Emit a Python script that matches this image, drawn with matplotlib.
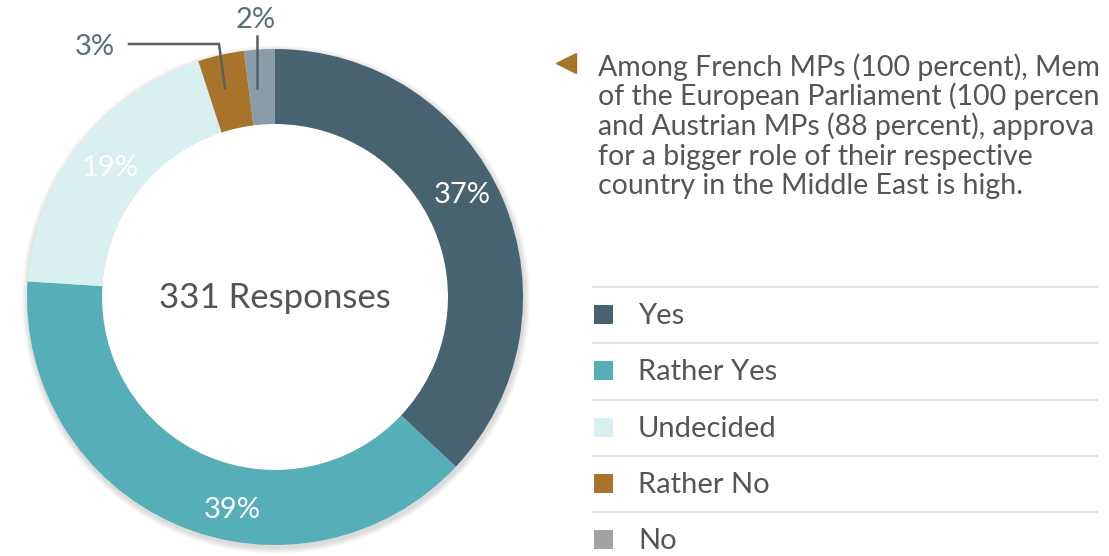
import matplotlib
matplotlib.use('Agg')
import matplotlib.pyplot as plt

# Survey data
categories = ['Yes', 'Rather Yes', 'Undecided', 'Rather No', 'No']
shares = [37, 39, 19, 3, 2]
slice_colors = ['#47636f', '#56aeb9', '#d8f0f0', '#a8732a', '#8b9ca9']
legend_colors = ['#47636f', '#56aeb9', '#d8f0f0', '#a8732a', '#a3a3a3']
total_responses = 331
# note text as visible in the (cropped) reference
note_lines = [
    'Among French MPs (100 percent), Mem',
    'of the European Parliament (100 percen',
    'and Austrian MPs (88 percent), approva',
    'for a bigger role of their respective',
    'country in the Middle East is high.',
]

W, H = 1109, 556
plt.rcParams['font.family'] = ['Lato', 'DejaVu Sans']
fig = plt.figure(figsize=(W / 100, H / 100), dpi=100)

# donut axes, centre at (275, 297) px, outer radius ~248 px
cx, cy, half = 275, 297, 256
ax = fig.add_axes([(cx - half) / W, (H - cy - half) / H, 2 * half / W, 2 * half / H])
R = 248 / half
ring = 75 / half
# faint drop shadow behind the ring
for k in range(6):
    ax.add_patch(plt.Circle((0.004, -0.01), R + 0.004 * (k + 1), color='#000000',
                            alpha=0.025, lw=0, zorder=0))
wedges, _ = ax.pie(shares, colors=slice_colors, startangle=90, counterclock=False,
                   radius=R, wedgeprops=dict(width=ring, linewidth=0))
ax.add_patch(plt.Circle((0, 0), R - ring, color='white', lw=0, zorder=0.5))
ax.set_xlim(-1, 1)
ax.set_ylim(-1, 1)
ax.set_aspect('equal')
ax.axis('off')

# overlay axes in pixel coordinates for text
ov = fig.add_axes([0, 0, 1, 1], zorder=5)
ov.set_xlim(0, W)
ov.set_ylim(H, 0)
ov.axis('off')

ov.text(cx, 308, f'{total_responses} Responses', ha='center', va='baseline',
        fontsize=25, color='#555555')

# percentage labels
inside_pos = [(462, 195), (232, 510), (110, 168)]
for (x, y), v in zip(inside_pos, shares[:3]):
    ov.text(x, y, f'{v}%', ha='center', va='center', fontsize=21, color='white')

lab_col = '#5a6f7c'
ov.text(95, 47, f'{shares[3]}%', ha='center', va='center', fontsize=21, color=lab_col)
ov.text(256, 20, f'{shares[4]}%', ha='center', va='center', fontsize=21, color=lab_col)
ov.plot([129, 219, 225], [44, 44, 88], color='#555f66', lw=1.8, solid_joinstyle='miter')
ov.plot([257, 257], [36, 88], color='#555f66', lw=1.8)

# note text with marker
ov.plot(566, 63, marker='<', markersize=14, color='#a8732a', linestyle='none')
for i, line in enumerate(note_lines):
    ov.text(598, 76 + i * 29.5, line, ha='left', va='baseline', fontsize=20.5,
            color='#555555')

# legend rows
sep_y = [287, 343, 400, 456, 512]
for i, (name, col) in enumerate(zip(categories, legend_colors)):
    y0 = sep_y[i]
    ov.plot([593, 1097], [y0, y0], color='#e3e3e3', lw=1.5)
    ov.add_patch(plt.Rectangle((594, y0 + 18), 19, 19, color=col, lw=0))
    ov.text(638, y0 + 37, name, ha='left', va='baseline', fontsize=21, color='#555555')

fig.savefig('out.png', dpi=100)
